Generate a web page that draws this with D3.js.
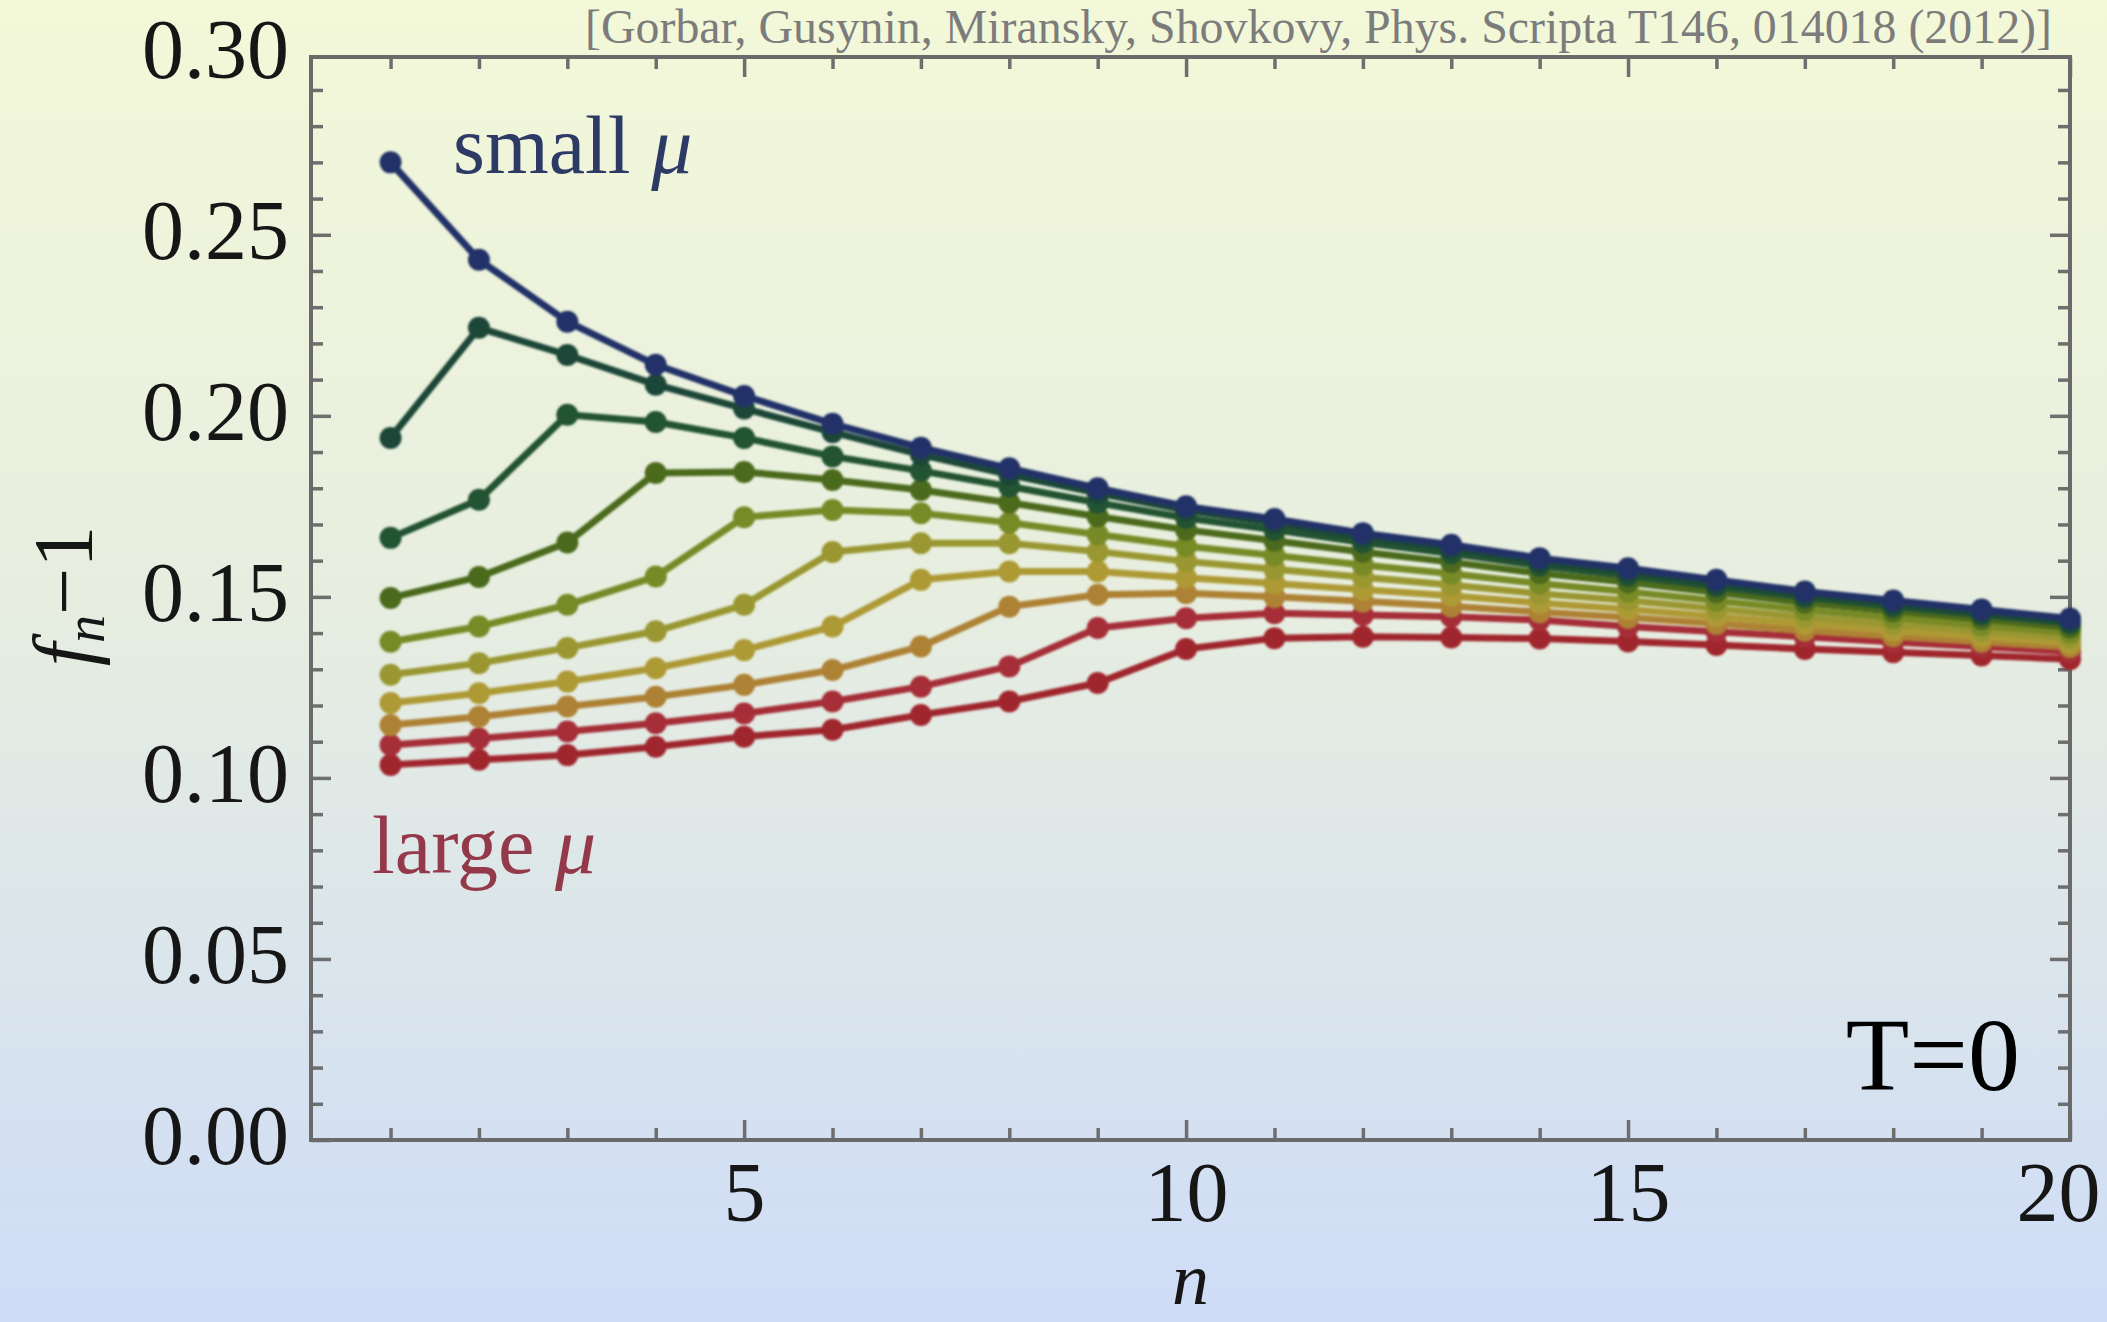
<!DOCTYPE html>
<meta charset="utf-8">
<style>
body { margin: 0; }
.tick text { font-family: "Liberation Serif", "Times New Roman", serif; fill: #161616; }
.tick line { stroke: #6e6e6e; stroke-width: 3.5; }
</style>
<body>
<script src="https://cdn.jsdelivr.net/npm/d3@7/dist/d3.min.js"></script>
<script>

// level index n on the x axis
var nValues = [1, 2, 3, 4, 5, 6, 7, 8, 9, 10, 11, 12, 13, 14, 15, 16, 17, 18, 19, 20];

// f_n - 1, one list per chemical potential, small mu first
var mu01 = [0.2700, 0.2431, 0.2260, 0.2141, 0.2055, 0.1978, 0.1912, 0.1855, 0.1800, 0.1750,
            0.1715, 0.1676, 0.1644, 0.1607, 0.1579, 0.1547, 0.1515, 0.1490, 0.1465, 0.1440];
var mu02 = [0.1939, 0.2243, 0.2168, 0.2086, 0.2020, 0.1955, 0.1893, 0.1838, 0.1787, 0.1739,
            0.1704, 0.1666, 0.1634, 0.1598, 0.1570, 0.1538, 0.1507, 0.1482, 0.1457, 0.1433];
var mu03 = [0.1663, 0.1768, 0.2003, 0.1983, 0.1939, 0.1888, 0.1848, 0.1805, 0.1760, 0.1718,
            0.1685, 0.1650, 0.1620, 0.1586, 0.1558, 0.1528, 0.1498, 0.1473, 0.1450, 0.1426];
var mu04 = [0.1497, 0.1555, 0.1650, 0.1842, 0.1845, 0.1823, 0.1795, 0.1760, 0.1722, 0.1685,
            0.1655, 0.1624, 0.1596, 0.1565, 0.1540, 0.1512, 0.1484, 0.1460, 0.1438, 0.1415];
var mu05 = [0.1376, 0.1418, 0.1478, 0.1556, 0.1720, 0.1740, 0.1731, 0.1705, 0.1672, 0.1640,
            0.1614, 0.1588, 0.1564, 0.1537, 0.1514, 0.1489, 0.1464, 0.1442, 0.1421, 0.1400];
var mu06 = [0.1285, 0.1317, 0.1359, 0.1405, 0.1478, 0.1624, 0.1648, 0.1648, 0.1625, 0.1598,
            0.1576, 0.1554, 0.1533, 0.1509, 0.1490, 0.1467, 0.1444, 0.1424, 0.1405, 0.1386];
var mu07 = [0.1207, 0.1234, 0.1266, 0.1303, 0.1353, 0.1418, 0.1547, 0.1570, 0.1570, 0.1553,
            0.1537, 0.1520, 0.1503, 0.1483, 0.1466, 0.1446, 0.1425, 0.1407, 0.1390, 0.1373];
var mu08 = [0.1146, 0.1169, 0.1197, 0.1224, 0.1257, 0.1298, 0.1363, 0.1473, 0.1506, 0.1510,
            0.1500, 0.1488, 0.1474, 0.1458, 0.1443, 0.1426, 0.1408, 0.1392, 0.1377, 0.1362];
var mu09 = [0.1091, 0.1109, 0.1128, 0.1151, 0.1178, 0.1211, 0.1252, 0.1308, 0.1414, 0.1441,
            0.1455, 0.1450, 0.1445, 0.1436, 0.1418, 0.1404, 0.1390, 0.1375, 0.1362, 0.1348];
var mu10 = [0.1036, 0.1050, 0.1063, 0.1086, 0.1114, 0.1133, 0.1174, 0.1211, 0.1262, 0.1356,
            0.1386, 0.1390, 0.1388, 0.1385, 0.1377, 0.1367, 0.1356, 0.1347, 0.1338, 0.1328];

var seriesList = [mu01, mu02, mu03, mu04, mu05, mu06, mu07, mu08, mu09, mu10];
var seriesColors = ["#223168", "#1d4739", "#225231", "#4c6b1f", "#788a28",
                    "#9a9730", "#ae9a36", "#ae8236", "#a62f37", "#a0272d"];

var xTickLabels = [5, 10, 15, 20];
var yTickLabels = [0.00, 0.05, 0.10, 0.15, 0.20, 0.25, 0.30];

var W = 2107, H = 1322;
var margin = {top: 57, right: 37, bottom: 182, left: 311},
    width = W - margin.left - margin.right,
    height = H - margin.top - margin.bottom;

var x = d3.scaleLinear().domain([0.1, 20]).range([0, width]);
var y = d3.scaleLinear().domain([0, 0.2991]).range([height, 0]);

var svg = d3.select("body").append("svg")
    .attr("width", W)
    .attr("height", H);

// background wash, pale yellow to light blue
var defs = svg.append("defs");
var grad = defs.append("linearGradient")
    .attr("id", "bg").attr("x1", 0).attr("y1", 0).attr("x2", 0).attr("y2", 1);
grad.append("stop").attr("offset", "0").attr("stop-color", "#f3f8d8");
grad.append("stop").attr("offset", "0.45").attr("stop-color", "#e7eee0");
grad.append("stop").attr("offset", "1").attr("stop-color", "#cedcf7");
defs.append("filter").attr("id", "soft")
  .append("feGaussianBlur").attr("stdDeviation", 1.1);

svg.append("rect").attr("width", W).attr("height", H).attr("fill", "url(#bg)");

var g = svg.append("g")
    .attr("transform", "translate(" + margin.left + "," + margin.top + ")");

// frame ticks point inward, on all four sides
var xMinor = d3.range(1, 21).filter(function(d) { return d % 5 !== 0; });
var yMinor = d3.range(1, 30).filter(function(d) { return d % 5 !== 0; })
    .map(function(d) { return d / 100; });

function drawAxis(axis, tx, ty) {
  var a = g.append("g").attr("transform", "translate(" + tx + "," + ty + ")").call(axis);
  a.select(".domain").remove();
  return a;
}

var fmt = d3.format(".2f");

drawAxis(d3.axisBottom(x).tickValues(xMinor).tickSize(-12).tickFormat(""), 0, height);
drawAxis(d3.axisTop(x).tickValues(xMinor).tickSize(-12).tickFormat(""), 0, 0);
drawAxis(d3.axisTop(x).tickValues(xTickLabels).tickSize(-20).tickFormat(""), 0, 0);
drawAxis(d3.axisLeft(y).tickValues(yMinor).tickSize(-12).tickFormat(""), 0, 0);
drawAxis(d3.axisRight(y).tickValues(yMinor).tickSize(-12).tickFormat(""), width, 0);
drawAxis(d3.axisRight(y).tickValues(yTickLabels.slice(1, 6)).tickSize(-20).tickFormat(""), width, 0);

var xAx = drawAxis(d3.axisBottom(x).tickValues(xTickLabels).tickSize(-20).tickPadding(21)
    .tickFormat(d3.format("d")), 0, height);
xAx.selectAll("text").style("font-size", "84px");
// last label sits at the page edge, nudge it in
xAx.selectAll(".tick").filter(function(d) { return d === 20; }).select("text").attr("dx", -12);

var yAx = drawAxis(d3.axisLeft(y).tickValues(yTickLabels).tickSize(-20).tickPadding(22)
    .tickFormat(fmt), 0, 0);
yAx.selectAll("text").style("font-size", "84px").attr("dy", "0.28em");
yAx.selectAll(".tick").filter(function(d) { return d > 0.2991; }).select("line").remove();

// frame
g.append("rect")
    .attr("x", x.range()[0]).attr("y", y.range()[1])
    .attr("width", width).attr("height", height)
    .attr("fill", "none").attr("stroke", "#6a6a6a").attr("stroke-width", 4);

// curves with point markers, large mu drawn first
var line = d3.line()
    .x(function(d, i) { return x(nValues[i]); })
    .y(function(d) { return y(d); });

var marks = g.append("g").attr("filter", "url(#soft)");
for (var k = seriesList.length - 1; k >= 0; k--) {
  var s = marks.append("g");
  s.append("path")
      .datum(seriesList[k])
      .attr("fill", "none")
      .attr("stroke", seriesColors[k])
      .attr("stroke-width", 7)
      .attr("stroke-linejoin", "round")
      .attr("d", line);
  s.selectAll("circle")
      .data(seriesList[k])
    .enter().append("circle")
      .attr("cx", function(d, i) { return x(nValues[i]); })
      .attr("cy", function(d) { return y(d); })
      .attr("r", 11)
      .attr("fill", seriesColors[k]);
}

// text annotations
var serif = "'Liberation Serif', 'Times New Roman', serif";

var sm = svg.append("text").attr("x", 453).attr("y", 173)
    .style("font-family", serif).style("font-size", "82px").attr("fill", "#2e3a66");
sm.append("tspan").text("small ");
sm.append("tspan").style("font-style", "italic").text("μ");

var lg = svg.append("text").attr("x", 372).attr("y", 873)
    .style("font-family", serif).style("font-size", "82px").attr("fill", "#94394a");
lg.append("tspan").text("large ");
lg.append("tspan").style("font-style", "italic").text("μ");

svg.append("text").attr("x", 2020).attr("y", 1090)
    .attr("text-anchor", "end")
    .style("font-family", serif).style("font-size", "104px").attr("fill", "#000")
    .text("T=0");

svg.append("text").attr("x", 585).attr("y", 43)
    .attr("textLength", 1467).attr("lengthAdjust", "spacingAndGlyphs")
    .style("font-family", serif).style("font-size", "48px").attr("fill", "#7c7c7c")
    .text("[Gorbar, Gusynin, Miransky, Shovkovy, Phys. Scripta T146, 014018 (2012)]");

// axis titles
svg.append("text").attr("x", margin.left + width / 2).attr("y", 1304)
    .attr("text-anchor", "middle")
    .style("font-family", serif).style("font-size", "74px").style("font-style", "italic")
    .attr("fill", "#161616").text("n");

var yt = svg.append("text")
    .attr("transform", "translate(92,596) rotate(-90)")
    .attr("text-anchor", "middle")
    .style("font-family", serif).style("font-size", "84px").attr("fill", "#161616");
yt.append("tspan").style("font-style", "italic").text("f");
yt.append("tspan").style("font-style", "italic").style("font-size", "56px").attr("dy", 12).text("n");
yt.append("tspan").attr("dy", -12).text("\u2212" + "1");

</script>
</body>
